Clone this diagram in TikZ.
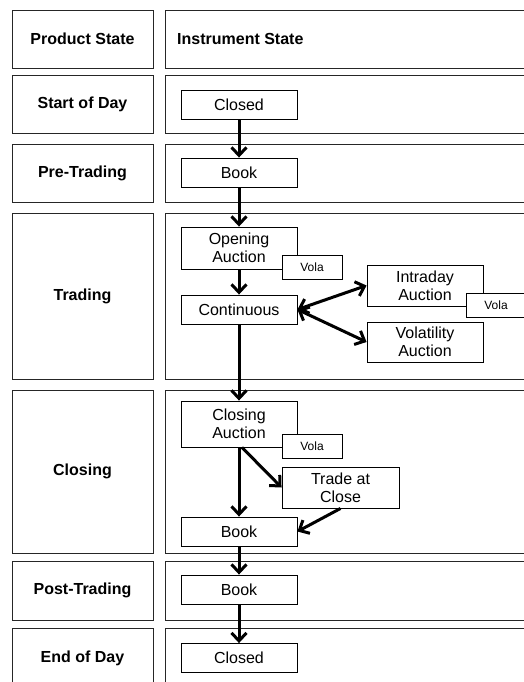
\documentclass[tikz,border=0pt]{standalone}
\usepackage{fontspec}
\setmainfont{Liberation Sans}
\usetikzlibrary{arrows.meta}

\tikzset{
  rowlabel/.style={draw=black!85, line width=0.9pt, minimum width=141, inner sep=0pt,
    font=\bfseries\fontsize{16}{18}\selectfont},
  rowframe/.style={draw=black!85, line width=0.9pt},
  statebox/.style={draw, line width=0.9pt, fill=white, minimum width=116, minimum height=29,
    inner sep=0pt, align=center, font=\fontsize{16}{18}\selectfont},
  volabox/.style={draw, line width=0.9pt, fill=white, minimum width=60, minimum height=24,
    inner sep=0pt, font=\fontsize{12}{14}\selectfont},
  flow/.style={line width=3pt, -{Straight Barb[length=8pt,width=15pt]}},
  twoway/.style={line width=3pt, {Straight Barb[length=8pt,width=15pt]}-{Straight Barb[length=8pt,width=15pt]}}
}

\begin{document}
\begin{tikzpicture}[x=1pt,y=-1pt]
  \useasboundingbox (0,0) rectangle (523,682);

  % Header row
  \node [rowlabel, minimum height=58] (prodstate) at (82.5,39) {Product State};%
  \draw [rowframe] (165,10) rectangle (530,68);%
  \node [anchor=west, inner sep=0pt, font=\bfseries\fontsize{16}{18}\selectfont] (inststate) at (177,39) {Instrument State};%

  % Rows of the product states
  \node [rowlabel, minimum height=58] (startofday) at (82.5,104) {Start of Day};%
  \draw [rowframe] (165,75) rectangle (530,133);%
  \node [rowlabel, minimum height=58] (pretrading) at (82.5,173) {Pre-Trading};%
  \draw [rowframe] (165,144) rectangle (530,202);%
  \node [rowlabel, minimum height=166] (trading) at (82.5,296) {Trading};%
  \draw [rowframe] (165,213) rectangle (530,379);%
  \node [rowlabel, minimum height=163] (closing) at (82.5,471.5) {Closing};%
  \draw [rowframe] (165,390) rectangle (530,553);%
  \node [rowlabel, minimum height=59] (posttrading) at (82.5,590.5) {Post-Trading};%
  \draw [rowframe] (165,561) rectangle (530,620);%
  \node [rowlabel, minimum height=60] (endofday) at (82.5,658) {End of Day};%
  \draw [rowframe] (165,628) rectangle (530,688);%

  % Instrument states
  \node [statebox] (closedA) at (239,104.5) {Closed};%
  \node [statebox] (bookA) at (239,172.5) {Book};%
  \node [statebox, minimum height=42] (openauc) at (239,248) {Opening\\Auction};%
  \node [statebox] (continuous) at (239,309.5) {Continuous};%
  \node [statebox, minimum height=41] (intraauc) at (425,285.5) {Intraday\\Auction};%
  \node [statebox, minimum height=40] (volaauc) at (425,342) {Volatility\\Auction};%
  \node [statebox, minimum height=46] (closeauc) at (239,424) {Closing\\Auction};%
  \node [statebox, minimum width=117, minimum height=41] (tradeclose) at (340.5,487.5) {Trade at\\Close};%
  \node [statebox] (bookB) at (239,531.5) {Book};%
  \node [statebox] (bookC) at (239,589.5) {Book};%
  \node [statebox] (closedB) at (239,658) {Closed};%

  % Volatility interruptions
  \node [volabox] (volaA) at (312,267) {Vola};%
  \node [volabox] (volaB) at (496,305.5) {Vola};%
  \node [volabox] (volaC) at (312,446) {Vola};%

  % Transitions
  \draw [flow] (closedA) -- (bookA);%
  \draw [flow] (bookA) -- (openauc);%
  \draw [flow] (openauc) -- (continuous);%
  \draw [twoway] (continuous.east) -- (intraauc.west);%
  \draw [twoway] (continuous.east) -- (volaauc.west);%
  \draw [flow] (continuous) -- (closeauc);%
  \draw [flow] (closeauc) -- (bookB);%
  \draw [flow] ([xshift=3pt]closeauc.south) -- (tradeclose.west);%
  \draw [flow] (tradeclose.south) -- (bookB.east);%
  \draw [flow] (bookB) -- (bookC);%
  \draw [flow] (bookC) -- (closedB);%
\end{tikzpicture}
\end{document}
